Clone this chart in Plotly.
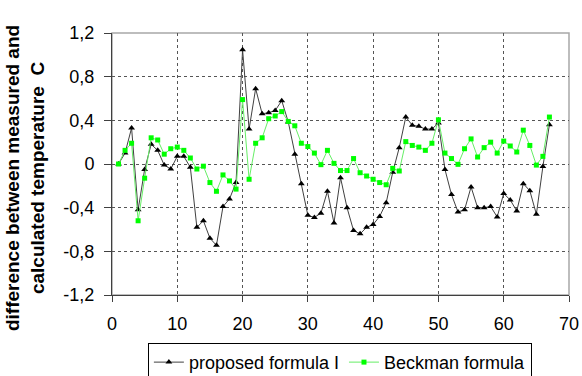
import plotly.graph_objects as go

x_vals = list(range(1, 68))

proposed = [0.00, 0.10, 0.33, -0.42, -0.05, 0.18, 0.125, -0.01, -0.046, 0.07,
            0.07, -0.03, -0.58, -0.52, -0.68, -0.745, -0.39, -0.32, -0.17, 1.047,
            0.32, 0.69, 0.46, 0.47, 0.49, 0.58, 0.385, 0.09, -0.18, -0.47,
            -0.49, -0.45, -0.25, -0.54, -0.125, -0.40, -0.61, -0.64, -0.58, -0.555,
            -0.48, -0.355, -0.076, 0.15, 0.43, 0.355, 0.345, 0.32, 0.32, 0.375,
            -0.05, -0.28, -0.44, -0.42, -0.21, -0.40, -0.40, -0.39, -0.485, -0.27,
            -0.33, -0.43, -0.18, -0.245, -0.46, -0.024, 0.36]

beckman = [0.00, 0.125, 0.19, -0.52, -0.13, 0.24, 0.22, 0.09, 0.14, 0.155,
           0.125, 0.055, -0.046, -0.02, -0.17, -0.25, -0.10, -0.155, -0.23, 0.59,
           -0.14, 0.19, 0.24, 0.415, 0.44, 0.48, 0.39, 0.35, 0.19, 0.16,
           0.10, -0.006, 0.125, 0.006, -0.06, -0.06, 0.05, -0.08, -0.11, -0.14,
           -0.17, -0.19, -0.04, -0.064, 0.205, 0.17, 0.155, 0.125, 0.19, 0.405,
           0.10, 0.05, -0.003, 0.14, 0.23, 0.064, 0.15, 0.20, 0.10, 0.21,
           0.165, 0.11, 0.31, 0.17, -0.01, 0.07, 0.43]

y_ticks = [-1.2, -0.8, -0.4, 0, 0.4, 0.8, 1.2]
y_tick_text = ["-1,2", "-0,8", "-0,4", "0", "0,4", "0,8", "1,2"]
x_ticks = [0, 10, 20, 30, 40, 50, 60, 70]
y_title = "<b>difference between measured and<br>calculated temperature  C</b>"

font = "Liberation Sans, Arial, sans-serif"

fig = go.Figure()
fig.add_trace(go.Scatter(
    x=x_vals, y=proposed, mode="lines+markers", name="proposed formula I",
    line=dict(color="#404040", width=1),
    marker=dict(symbol="triangle-up", size=6, color="black"),
))
fig.add_trace(go.Scatter(
    x=x_vals, y=beckman, mode="lines+markers", name="Beckman formula",
    line=dict(color="#66ee66", width=1),
    marker=dict(symbol="square", size=5, color="#00ff00"),
))

fig.add_shape(type="rect", xref="paper", yref="paper", x0=0, y0=0, x1=1, y1=1,
              line=dict(color="#a8a8a8", width=1.5), layer="below")

fig.add_annotation(text=y_title, textangle=-90, xref="paper", yref="paper",
                   x=-0.19, y=0.447, xanchor="center", yanchor="middle",
                   showarrow=False, font=dict(size=19, family=font, color="black"))

fig.update_layout(
    width=582, height=376,
    margin=dict(l=112, r=13, t=33, b=81, autoexpand=False),
    paper_bgcolor="white", plot_bgcolor="white",
    font=dict(family=font, size=18, color="black"),
    showlegend=True,
    legend=dict(orientation="h", xref="container", yref="container",
                x=0.584, xanchor="center", y=0.088, yanchor="top",
                bordercolor="black", borderwidth=1, font=dict(size=18),
                itemwidth=30, tracegroupgap=0, itemclick=False),
    xaxis=dict(range=[0, 70], tickvals=x_ticks, showgrid=True, automargin=False,
               gridcolor="#555555", griddash="dot", gridwidth=1,
               showline=True, linecolor="#404040", linewidth=1,
               ticks="outside", ticklen=6, tickcolor="#404040",
               ticklabelstandoff=6,
               zeroline=False, tickfont=dict(size=18)),
    yaxis=dict(range=[-1.2, 1.2], tickvals=y_ticks, ticktext=y_tick_text,
               showgrid=True, automargin=False,
               gridcolor="#555555", griddash="dot", gridwidth=1,
               showline=True, linecolor="#404040", linewidth=1,
               ticks="outside", ticklen=7, tickcolor="#404040",
               ticklabelstandoff=6,
               zeroline=False, tickfont=dict(size=18)),
)

fig.write_html("out.html")
